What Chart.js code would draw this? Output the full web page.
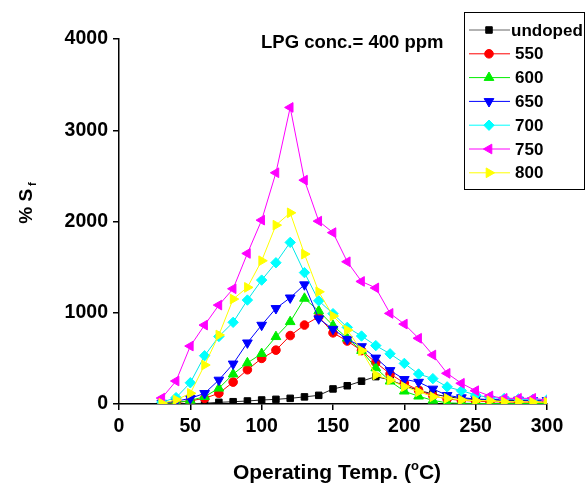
<!DOCTYPE html>
<html>
<head>
<meta charset="utf-8">
<title>LPG sensitivity</title>
<script src="https://cdn.jsdelivr.net/npm/chart.js@4.4.0/dist/chart.umd.min.js"></script>
<style>
  body { margin: 0; background: #fff; }
  canvas { display: block; }
</style>
</head>
<body>
<canvas id="sensChart" width="586" height="485"></canvas>
<script>
// operating temperature (°C)
const temps = [30, 40, 50, 60, 70, 80, 90, 100, 110, 120, 130, 140, 150, 160,
               170, 180, 190, 200, 210, 220, 230, 240, 250, 260, 270, 280, 290, 300];

// % Sf for each annealing temperature
const undoped = [0, 0, 3, 8, 18, 25, 33, 44, 51, 62, 78, 95, 165, 200,
                 250, 300, 265, 200, 150, 110, 80, 60, 50, 45, 40, 38, 35, 35];
const s550 = [5, 15, 35, 62, 117, 240, 375, 500, 590, 750, 865, 956, 780, 690,
              585, 455, 330, 230, 150, 90, 55, 40, 30, 25, 22, 20, 20, 20];
const s600 = [5, 15, 40, 80, 172, 327, 450, 552, 737, 901, 1157, 1020, 860, 720,
              585, 395, 250, 140, 85, 40, 12, 8, 6, 5, 5, 5, 5, 5];
const s650 = [10, 30, 62, 117, 263, 440, 671, 865, 1048, 1164, 1308, 935, 820, 710,
              630, 505, 368, 270, 240, 165, 95, 70, 55, 50, 45, 45, 40, 40];
const s700 = [20, 70, 233, 529, 740, 895, 1139, 1358, 1548, 1771, 1440, 1131, 990, 840,
              745, 640, 550, 445, 329, 278, 188, 146, 99, 70, 60, 55, 50, 45];
const s750 = [65, 252, 635, 865, 1084, 1263, 1650, 2015, 2534, 3250, 2453, 2004, 1878, 1559,
              1343, 1272, 993, 876, 720, 537, 336, 227, 146, 88, 62, 62, 62, 44];
const s800 = [8, 45, 117, 427, 756, 1150, 1278, 1570, 1960, 2095, 1643, 1230, 964, 810,
              585, 318, 263, 190, 135, 80, 62, 44, 36, 36, 25, 25, 20, 20];

const seriesNames = ['undoped', '550', '600', '650', '700', '750', '800'];
const xTicks = [0, 50, 100, 150, 200, 250, 300];
const yTicks = [0, 1000, 2000, 3000, 4000];

const FONT = '"Liberation Sans", Arial, sans-serif';

const styles = [
    { color: '#000000', line: '#222222', legendLine: '#666666', shape: 'rect', rot: 0, r: 4.6 },
    { color: '#ff0000', line: '#ff0000', legendLine: '#ff0000', shape: 'circle', rot: 0, r: 4.3 },
    { color: '#00ee00', line: '#00ee00', legendLine: '#00ee00', shape: 'triangle', rot: 0, r: 5.6 },
    { color: '#0000ff', line: '#0000ff', legendLine: '#0000ff', shape: 'triangle', rot: 180, r: 5.6 },
    { color: '#00ffff', line: '#00e8e8', legendLine: '#00ffff', shape: 'rectRot', rot: 0, r: 5.2 },
    { color: '#ff00ff', line: '#ff00ff', legendLine: '#ff00ff', shape: 'triangle', rot: 270, r: 5.6 },
    { color: '#ffff00', line: '#ffff00', legendLine: '#ffff00', shape: 'triangle', rot: 90, r: 5.6 }
];

const values = [undoped, s550, s600, s650, s700, s750, s800];

const datasets = values.map((vals, i) => ({
    label: seriesNames[i],
    data: temps.map((t, k) => ({ x: t, y: vals[k] })),
    borderColor: styles[i].line,
    backgroundColor: styles[i].color,
    borderWidth: 1,
    pointStyle: styles[i].shape,
    pointRotation: styles[i].rot,
    pointRadius: styles[i].r,
    pointBorderColor: styles[i].color,
    pointBackgroundColor: styles[i].color,
    pointBorderWidth: 1,
    tension: 0,
    order: values.length - i
}));

// text and legend drawn on top of the plot
const overlay = {
    id: 'overlay',
    afterDraw(chart) {
        const ctx = chart.ctx;
        ctx.save();
        ctx.fillStyle = '#000';
        ctx.textBaseline = 'alphabetic';

        // concentration note
        ctx.font = 'bold 18.5px ' + FONT;
        ctx.textAlign = 'left';
        ctx.fillText('LPG conc.= 400 ppm', 261, 48);

        // x axis title with degree superscript
        const p1 = 'Operating Temp. (';
        const p2 = 'C)';
        ctx.font = 'bold 21px ' + FONT;
        const w1 = ctx.measureText(p1).width;
        const w2 = ctx.measureText(p2).width;
        ctx.font = 'bold 13px ' + FONT;
        const wo = ctx.measureText('o').width;
        let x = 337 - (w1 + wo + w2) / 2;
        const base = 479;
        ctx.font = 'bold 21px ' + FONT;
        ctx.fillText(p1, x, base);
        x += w1;
        ctx.font = 'bold 13px ' + FONT;
        ctx.fillText('o', x, base - 9);
        x += wo;
        ctx.font = 'bold 21px ' + FONT;
        ctx.fillText(p2, x, base);

        // y axis title with subscript
        ctx.translate(32, 203);
        ctx.rotate(-Math.PI / 2);
        ctx.font = 'bold 19px ' + FONT;
        const ws = ctx.measureText('% S').width;
        ctx.font = 'bold 11px ' + FONT;
        const wf = ctx.measureText('f').width;
        const yx = -(ws + wf + 3) / 2;
        ctx.font = 'bold 19px ' + FONT;
        ctx.fillText('% S', yx, 0);
        ctx.font = 'bold 11px ' + FONT;
        ctx.fillText('f', yx + ws + 3, 4);
        ctx.restore();

        // legend box
        ctx.save();
        ctx.fillStyle = '#fff';
        ctx.fillRect(464, 12, 120, 177);
        ctx.strokeStyle = '#000';
        ctx.lineWidth = 1;
        ctx.strokeRect(464.5, 12.5, 120, 177);
        ctx.font = 'bold 17px ' + FONT;
        ctx.textBaseline = 'middle';
        seriesNames.forEach((name, i) => {
            const y = 30 + i * 23.8;
            const st = styles[i];
            ctx.strokeStyle = st.legendLine;
            ctx.lineWidth = 1;
            ctx.beginPath();
            ctx.moveTo(469, y);
            ctx.lineTo(510, y);
            ctx.stroke();
            ctx.fillStyle = st.color;
            ctx.strokeStyle = st.color;
            Chart.helpers.drawPoint(ctx, {
                pointStyle: st.shape,
                rotation: st.rot,
                radius: st.r,
                borderWidth: 1
            }, 489, y);
            ctx.fillStyle = '#000';
            ctx.fillText(name, i === 0 ? 511 : 515, y + 1);
        });
        ctx.restore();
    }
};

new Chart(document.getElementById('sensChart').getContext('2d'), {
    type: 'line',
    data: { datasets: datasets },
    options: {
        responsive: false,
        animation: false,
        layout: { padding: { left: 0, top: 39, right: 39, bottom: 0 } },
        scales: {
            x: {
                type: 'linear',
                min: 0,
                max: 300,
                afterBuildTicks: scale => { scale.ticks = xTicks.map(v => ({ value: v })); },
                afterFit: scale => { scale.height = 81; },
                grid: { display: true, drawOnChartArea: false, drawTicks: true, tickLength: 6, color: '#000', lineWidth: 1.5 },
                border: { display: true, color: '#000', width: 1.5 },
                ticks: {
                    color: '#000',
                    padding: 5,
                    font: { family: FONT, size: 19.5, weight: 'bold' },
                    callback: v => String(v)
                }
            },
            y: {
                min: 0,
                max: 4000,
                afterBuildTicks: scale => { scale.ticks = yTicks.map(v => ({ value: v })); },
                afterFit: scale => { scale.width = 119; },
                grid: { display: true, drawOnChartArea: false, drawTicks: true, tickLength: 6, color: '#000', lineWidth: 1.5 },
                border: { display: true, color: '#000', width: 1.5 },
                ticks: {
                    color: '#000',
                    padding: 5,
                    font: { family: FONT, size: 19.5, weight: 'bold' },
                    callback: v => String(v)
                }
            }
        },
        plugins: {
            legend: { display: false },
            tooltip: { enabled: false }
        }
    },
    plugins: [overlay]
});
</script>
</body>
</html>
